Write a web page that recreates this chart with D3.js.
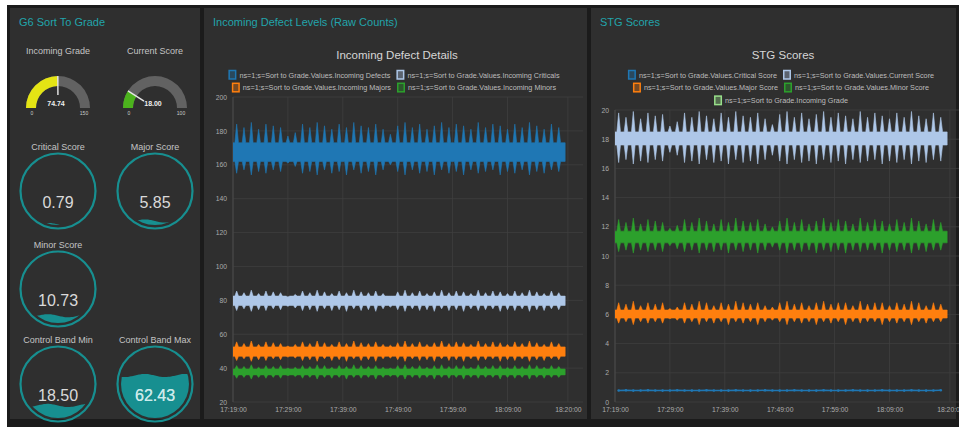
<!DOCTYPE html>
<html>
<head>
<meta charset="utf-8">
<script src="https://cdn.jsdelivr.net/npm/d3@7"></script>
<style>
body { margin: 0; background: #fff; }
svg { display: block; font-family: "Liberation Sans", Arial, sans-serif; }
</style>
</head>
<body>
<svg id="dash" width="959" height="427"></svg>
<script>
// ---- time axis (shared by both charts)
const tickLabels = ["17:19:00", "17:29:00", "17:39:00", "17:49:00", "17:59:00", "18:09:00", "18:20:00"];
const domainStart = "17:19:00";
const domainEnd = "18:22:45";
const seriesEnd = "18:19:30";
const spikeSeconds = 80; // one burst roughly every 80 s

// ---- left panel
const dialNames = ["Incoming Grade", "Current Score"];
const dialValues = [74.74, 18.00];
const dialMax = [150, 100];
const dialColors = ["#e4e414", "#4cb31d"];

const fillNames = ["Critical Score", "Major Score", "Minor Score", "Control Band Min", "Control Band Max"];
const fillValues = [0.79, 5.85, 10.73, 18.50, 62.43];

// ---- Incoming Defect Details
const defectNames = [
    "ns=1;s=Sort to Grade.Values.Incoming Defects",
    "ns=1;s=Sort to Grade.Values.Incoming Criticals",
    "ns=1;s=Sort to Grade.Values.Incoming Majors",
    "ns=1;s=Sort to Grade.Values.Incoming Minors"
];
const defectColors = ["#1f77b4", "#aec7e8", "#ff7f0e", "#2ca02c"];
const defectTicks = [20, 40, 60, 80, 100, 120, 140, 160, 180, 200];

const defectsPeak = [184,182,185,181,184,183,182,177,179,184,182,185,183,181,184,182,185,183,182,184,181,178,183,185,182,184,181,183,185,182,184,183,181,185,182,184,183,181,184,182,185,183,181,184,182];
const defectsTrough = [155,157,154,156,155,157,156,161,159,155,156,154,157,155,156,154,157,155,156,154,157,160,156,154,157,155,156,154,157,155,156,154,157,155,156,157,154,156,155,157,154,156,155,157,156];
const defectsCore = [162, 173];

const criticalsPeak = [85.5,84.5,86,84,85.5,85,84.5,82,83.5,85.5,84.5,86,85,84,85.5,84.5,86,85,84.5,85.5,84,82.5,85,86,84.5,85.5,84,85,86,84.5,85.5,85,84,86,84.5,85.5,85,84,85.5,84.5,86,85,84,85.5,84.5];
const criticalsTrough = [74,75,73.5,74.5,74,75,74.5,76.5,75.5,74,74.5,73.5,75,74,74.5,73.5,75,74,74.5,73.5,75,76,74.5,73.5,75,74,74.5,73.5,75,74,74.5,73.5,75,74,74.5,75,73.5,74.5,74,75,73.5,74.5,74,75,74.5];
const criticalsCore = [77, 82.5];

const majorsPeak = [55.5,54.5,56,54,55.5,55,54.5,53,54,55.5,54.5,56,55,54,55.5,54.5,56,55,54.5,55.5,54,53.5,55,56,54.5,55.5,54,55,56,54.5,55.5,55,54,56,54.5,55.5,55,54,55.5,54.5,56,55,54,55.5,54.5];
const majorsTrough = [44.5,45.5,44,45,44.5,45.5,45,46.5,46,44.5,45,44,45.5,44.5,45,44,45.5,44.5,45,44,45.5,46,45,44,45.5,44.5,45,44,45.5,44.5,45,44,45.5,44.5,45,45.5,44,45,44.5,45.5,44,45,44.5,45.5,45];
const majorsCore = [47, 52.5];

const minorsPeak = [41.5,41,42,40.5,41.5,41,41.5,40,40.5,41.5,41,42,41.5,40.5,41.5,41,42,41.5,41,41.5,40.5,40,41.5,42,41,41.5,40.5,41.5,42,41,41.5,41.5,40.5,42,41,41.5,41.5,40.5,41.5,41,42,41.5,40.5,41.5,41];
const minorsTrough = [34,34.5,33.5,34.5,34,34.5,34,35.5,35,34,34.5,33.5,34.5,34,34.5,33.5,34.5,34,34.5,33.5,34.5,35,34.5,33.5,34.5,34,34.5,33.5,34.5,34,34.5,33.5,34.5,34,34.5,34.5,33.5,34.5,34,34.5,33.5,34.5,34,34.5,34.5];
const minorsCore = [36, 39.5];

// ---- STG Scores
const stgNames = [
    "ns=1;s=Sort to Grade.Values.Critical Score",
    "ns=1;s=Sort to Grade.Values.Current Score",
    "ns=1;s=Sort to Grade.Values.Major Score",
    "ns=1;s=Sort to Grade.Values.Minor Score",
    "ns=1;s=Sort to Grade.Incoming Grade"
];
const stgColors = ["#1f77b4", "#aec7e8", "#ff7f0e", "#2ca02c", "#98df8a"];
const stgTicks = [0, 2, 4, 6, 8, 10, 12, 14, 16, 18, 20];

const criticalScoreVals = [0.79,0.80,0.78,0.79,0.80,0.79,0.78,0.79,0.80,0.79,0.78,0.79,0.80,0.79,0.79,0.78,0.80,0.79,0.78,0.79,0.80,0.79,0.78,0.79,0.80,0.79,0.79,0.78,0.80,0.79,0.78,0.79,0.80,0.79,0.78,0.79,0.80,0.79,0.79,0.78,0.80,0.79,0.78,0.79,0.80];

const currentPeak = [19.8,19.5,19.9,19.4,19.8,19.6,19.7,18.9,19.2,19.8,19.5,19.9,19.6,19.4,19.8,19.5,19.9,19.6,19.5,19.8,19.4,19.0,19.7,19.9,19.5,19.8,19.4,19.7,19.9,19.5,19.8,19.6,19.4,19.9,19.5,19.8,19.6,19.4,19.8,19.5,19.9,19.6,19.4,19.8,19.5];
const currentTrough = [16.4,16.6,16.3,16.5,16.4,16.6,16.5,17.1,16.9,16.4,16.5,16.3,16.6,16.4,16.5,16.3,16.6,16.4,16.5,16.3,16.6,16.9,16.5,16.3,16.6,16.4,16.5,16.3,16.6,16.4,16.5,16.3,16.6,16.4,16.5,16.6,16.3,16.5,16.4,16.6,16.3,16.5,16.4,16.6,16.5];
const currentCore = [17.6, 18.5];

const minorScorePeak = [12.5,12.3,12.6,12.2,12.5,12.4,12.3,11.9,12.1,12.5,12.3,12.6,12.4,12.2,12.5,12.3,12.6,12.4,12.3,12.5,12.2,12.0,12.4,12.6,12.3,12.5,12.2,12.4,12.6,12.3,12.5,12.4,12.2,12.6,12.3,12.5,12.4,12.2,12.5,12.3,12.6,12.4,12.2,12.5,12.3];
const minorScoreTrough = [10.3,10.4,10.2,10.4,10.3,10.4,10.3,10.7,10.5,10.3,10.4,10.2,10.4,10.3,10.4,10.2,10.4,10.3,10.4,10.2,10.4,10.6,10.4,10.2,10.4,10.3,10.4,10.2,10.4,10.3,10.4,10.2,10.4,10.3,10.4,10.4,10.2,10.4,10.3,10.4,10.2,10.4,10.3,10.4,10.4];
const minorScoreCore = [10.9, 11.7];

const majorScorePeak = [6.8,6.7,6.9,6.6,6.8,6.7,6.8,6.4,6.5,6.8,6.7,6.9,6.8,6.6,6.8,6.7,6.9,6.8,6.7,6.8,6.6,6.5,6.8,6.9,6.7,6.8,6.6,6.8,6.9,6.7,6.8,6.8,6.6,6.9,6.7,6.8,6.8,6.6,6.8,6.7,6.9,6.8,6.6,6.8,6.7];
const majorScoreTrough = [5.4,5.5,5.3,5.5,5.4,5.5,5.4,5.7,5.6,5.4,5.5,5.3,5.5,5.4,5.5,5.3,5.5,5.4,5.5,5.3,5.5,5.6,5.5,5.3,5.5,5.4,5.5,5.3,5.5,5.4,5.5,5.3,5.5,5.4,5.5,5.5,5.3,5.5,5.4,5.5,5.3,5.5,5.4,5.5,5.5];
const majorScoreCore = [5.75, 6.3];

// off the 0-20 scale, so it gets clipped away like in the original
const incomingGradeVals = [74.7,74.8,74.6,74.7,74.9,74.7,74.6,74.8,74.7,74.7,74.8,74.6];

const teal = "#22a4ab";
const parseTime = d3.timeParse("%H:%M:%S");
const fmtTime = d3.timeFormat("%H:%M:%S");
const svg = d3.select("#dash");

// ---------- frame + panels
svg.append("rect").attr("x", 7).attr("y", 5).attr("width", 952).attr("height", 422).attr("fill", "#1b1b1b");

const panels = [
    { x: 10, y: 8, w: 190, h: 411, title: "G6 Sort To Grade" },
    { x: 204, y: 8, w: 383, h: 411, title: "Incoming Defect Levels (Raw Counts)" },
    { x: 591, y: 8, w: 365, h: 411, title: "STG Scores" }
];
panels.forEach(p => {
    svg.append("rect").attr("x", p.x).attr("y", p.y).attr("width", p.w).attr("height", p.h).attr("fill", "#2f2f2f");
    svg.append("text").attr("x", p.x + 9).attr("y", 22).attr("dy", "0.35em")
        .attr("fill", teal).style("font-size", "11px").text(p.title);
});

// ---------- semicircle dials
function drawDial(i, cx, cy) {
    const outer = 32, inner = 22;
    const angle = d3.scaleLinear().domain([0, dialMax[i]]).range([-Math.PI / 2, Math.PI / 2]);
    const arc = d3.arc().innerRadius(inner).outerRadius(outer);
    const g = svg.append("g").attr("transform", `translate(${cx},${cy})`);

    svg.append("text").attr("x", cx).attr("y", 51).attr("dy", "0.35em").attr("text-anchor", "middle")
        .attr("fill", "#c4c4c4").style("font-size", "9px").text(dialNames[i]);

    g.append("path").attr("d", arc({ startAngle: -Math.PI / 2, endAngle: Math.PI / 2 })).attr("fill", "#626262");
    g.append("path").attr("d", arc({ startAngle: -Math.PI / 2, endAngle: angle(dialValues[i]) })).attr("fill", dialColors[i]);

    const a = angle(dialValues[i]);
    g.append("line")
        .attr("x1", 13 * Math.sin(a)).attr("y1", -13 * Math.cos(a))
        .attr("x2", outer * Math.sin(a)).attr("y2", -outer * Math.cos(a))
        .attr("stroke", "#e6e6e6").attr("stroke-width", 1.4);

    g.append("text").attr("x", -2).attr("y", -2).attr("text-anchor", "middle")
        .attr("fill", "#eeeeee").style("font-size", "7px").style("font-weight", "bold")
        .text(dialValues[i].toFixed(2));
    g.append("text").attr("x", -26).attr("y", 7).attr("text-anchor", "middle")
        .attr("fill", "#cccccc").style("font-size", "5px").text(0);
    g.append("text").attr("x", 26).attr("y", 7).attr("text-anchor", "middle")
        .attr("fill", "#cccccc").style("font-size", "5px").text(dialMax[i]);
}
drawDial(0, 58, 108);
drawDial(1, 155, 108);

// ---------- liquid fill circles
const fillCenters = [[58, 191], [155, 191], [58, 289], [58, 384], [155, 384]];
function drawFill(i) {
    const [cx, cy] = fillCenters[i];
    const ring = 37.5, inner = 34;
    const level = d3.scaleLinear().domain([0, 100]).range([inner, -inner]);
    const g = svg.append("g").attr("transform", `translate(${cx},${cy})`);

    svg.append("text").attr("x", cx).attr("y", cy - 44).attr("dy", "0.35em").attr("text-anchor", "middle")
        .attr("fill", "#c4c4c4").style("font-size", "9px").text(fillNames[i]);

    g.append("circle").attr("r", ring).attr("fill", "none").attr("stroke", "#178f90").attr("stroke-width", 2.2);

    const clipCircle = "fillclip" + i;
    g.append("clipPath").attr("id", clipCircle).append("circle").attr("r", inner);

    const waveY = level(fillValues[i]);
    const wave = d3.area()
        .x(d => d)
        .y0(inner + 2)
        .y1(d => waveY + 1.6 * Math.sin(d / 6.5))
        .curve(d3.curveBasis);
    const waveX = d3.range(-inner - 4, inner + 5, 2);

    const clipWave = "wave" + i;
    g.append("clipPath").attr("id", clipWave).append("path").attr("d", wave(waveX));

    g.append("g").attr("clip-path", `url(#${clipCircle})`)
        .append("path").attr("d", wave(waveX)).attr("fill", "#178f90");

    g.append("text").attr("y", 11).attr("dy", "0.35em").attr("text-anchor", "middle")
        .attr("fill", "#dadada").style("font-size", "16px").text(fillValues[i].toFixed(2));
    g.append("g").attr("clip-path", `url(#${clipWave})`)
        .append("text").attr("y", 11).attr("dy", "0.35em").attr("text-anchor", "middle")
        .attr("fill", "#c8ecec").style("font-size", "16px").text(fillValues[i].toFixed(2));
}
fillValues.forEach((v, i) => drawFill(i));

// ---------- line charts
function burstPoints(peaks, troughs, core) {
    const t0 = parseTime(domainStart).getTime();
    const pts = [{ t: new Date(t0), lo: core[0], hi: core[1] }];
    peaks.forEach((p, i) => {
        const mid = t0 + (i * spikeSeconds + spikeSeconds / 2) * 1000;
        pts.push({ t: new Date(mid - 20000), lo: core[0], hi: core[1] });
        pts.push({ t: new Date(mid), lo: troughs[i], hi: p });
        pts.push({ t: new Date(mid + 20000), lo: core[0], hi: core[1] });
    });
    pts.push({ t: parseTime(seriesEnd), lo: core[0], hi: core[1] });
    return pts;
}

function linePoints(vals, step) {
    const t0 = parseTime(domainStart).getTime();
    return vals.map((v, i) => ({ t: new Date(t0 + (i * step + spikeSeconds / 2) * 1000), v: v }));
}

function drawLegend(cx, y0, names, colors, rows) {
    rows.forEach((row, ri) => {
        const gRow = svg.append("g");
        let xpos = 0;
        row.forEach(k => {
            const gi = gRow.append("g").attr("transform", `translate(${xpos},0)`);
            gi.append("rect").attr("x", 0.75).attr("y", -4.5).attr("width", 6.5).attr("height", 8.5)
                .attr("fill", colors[k]).attr("fill-opacity", 0.35)
                .attr("stroke", colors[k]).attr("stroke-width", 1.5);
            const t = gi.append("text").attr("x", 11).attr("dy", "0.35em")
                .attr("fill", "#bdbdbd").style("font-size", "7.25px").text(names[k]);
            xpos += 11 + t.node().getComputedTextLength() + 6;
        });
        gRow.attr("transform", `translate(${cx - (xpos - 6) / 2},${y0 + ri * 12.8})`);
    });
}

function drawChart(c) {
    const x = d3.scaleTime().domain([parseTime(domainStart), parseTime(domainEnd)]).range([c.x0, c.x1]);
    const y = d3.scaleLinear().domain(c.yDomain).range([c.yBottom, c.yTop]);
    const g = svg.append("g");

    g.append("text").attr("x", c.titleX).attr("y", 55).attr("dy", "0.35em").attr("text-anchor", "middle")
        .attr("fill", "#d6d6d6").style("font-size", "11.5px").text(c.title);
    drawLegend(c.legendX, 75, c.names, c.colors, c.legendRows);

    // grid
    g.selectAll(".hgrid").data(c.yTicks).join("line").attr("class", "hgrid")
        .attr("x1", c.x0).attr("x2", c.x1).attr("y1", d => y(d)).attr("y2", d => y(d))
        .attr("stroke", "#3f3f3f").attr("stroke-width", 0.8);
    g.selectAll(".vgrid").data(tickLabels.map(parseTime)).join("line").attr("class", "vgrid")
        .attr("x1", d => x(d)).attr("x2", d => x(d)).attr("y1", c.yTop).attr("y2", c.yBottom)
        .attr("stroke", "#3f3f3f").attr("stroke-width", 0.8);

    const yAxis = g.append("g").attr("transform", `translate(${c.x0},0)`)
        .call(d3.axisLeft(y).tickValues(c.yTicks).tickSize(0).tickPadding(6));
    const xAxis = g.append("g").attr("transform", `translate(0,${c.yBottom})`)
        .call(d3.axisBottom(x).tickValues(tickLabels.map(parseTime)).tickFormat(fmtTime).tickSize(0).tickPadding(5));
    [yAxis, xAxis].forEach(a => {
        a.select(".domain").remove();
        a.selectAll("text").attr("fill", "#ababab").style("font-size", "6.8px").style("font-family", "Liberation Sans, Arial, sans-serif");
    });
    g.append("line").attr("x1", c.x0).attr("x2", c.x0).attr("y1", c.yTop).attr("y2", c.yBottom)
        .attr("stroke", "#4a4a4a");

    const clipId = "clip" + c.id;
    svg.append("clipPath").attr("id", clipId).append("rect")
        .attr("x", c.x0).attr("y", c.yTop).attr("width", c.x1 - c.x0).attr("height", c.yBottom - c.yTop);
    const plot = svg.append("g").attr("clip-path", `url(#${clipId})`);

    const band = d3.area().x(d => x(d.t)).y0(d => y(d.lo)).y1(d => y(d.hi));
    c.bands.forEach(b => {
        plot.append("path").attr("d", band(burstPoints(b.peak, b.trough, b.core)))
            .attr("fill", b.color).attr("stroke", b.color).attr("stroke-width", 0.6);
    });

    const line = d3.line().x(d => x(d.t)).y(d => y(d.v));
    (c.lines || []).forEach(l => {
        const pts = linePoints(l.vals, l.step);
        plot.append("path").attr("d", line(pts)).attr("fill", "none")
            .attr("stroke", l.color).attr("stroke-width", 1.5);
        plot.selectAll(null).data(pts).join("circle")
            .attr("cx", d => x(d.t)).attr("cy", d => y(d.v)).attr("r", 1.3).attr("fill", l.color);
    });
}

drawChart({
    id: "defects",
    x0: 233, x1: 583, yTop: 97, yBottom: 402,
    yDomain: [20, 200], yTicks: defectTicks,
    title: "Incoming Defect Details", titleX: 397, legendX: 394,
    names: defectNames, colors: defectColors, legendRows: [[0, 1], [2, 3]],
    bands: [
        { peak: defectsPeak, trough: defectsTrough, core: defectsCore, color: defectColors[0] },
        { peak: criticalsPeak, trough: criticalsTrough, core: criticalsCore, color: defectColors[1] },
        { peak: majorsPeak, trough: majorsTrough, core: majorsCore, color: defectColors[2] },
        { peak: minorsPeak, trough: minorsTrough, core: minorsCore, color: defectColors[3] }
    ]
});

drawChart({
    id: "stg",
    x0: 615, x1: 965, yTop: 110, yBottom: 402,
    yDomain: [0, 20], yTicks: stgTicks,
    title: "STG Scores", titleX: 783, legendX: 781,
    names: stgNames, colors: stgColors, legendRows: [[0, 1], [2, 3], [4]],
    bands: [
        { peak: currentPeak, trough: currentTrough, core: currentCore, color: stgColors[1] },
        { peak: majorScorePeak, trough: majorScoreTrough, core: majorScoreCore, color: stgColors[2] },
        { peak: minorScorePeak, trough: minorScoreTrough, core: minorScoreCore, color: stgColors[3] }
    ],
    lines: [
        { vals: criticalScoreVals, step: spikeSeconds, color: stgColors[0] },
        { vals: incomingGradeVals, step: spikeSeconds * 4, color: stgColors[4] }
    ]
});
</script>
</body>
</html>
